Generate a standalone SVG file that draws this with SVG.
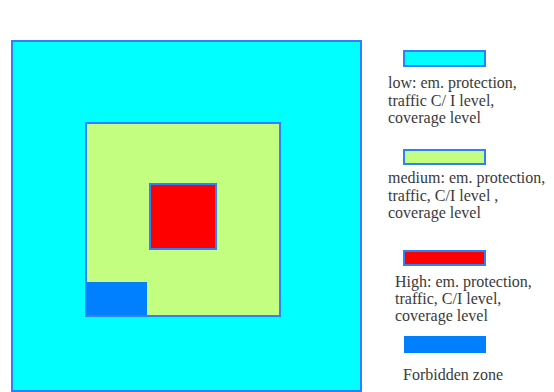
<svg xmlns="http://www.w3.org/2000/svg" width="554" height="392" viewBox="0 0 554 392">
<style>
.z{stroke:#2f7fff;stroke-width:2}
.t{font-family:'Liberation Serif','Times New Roman','DejaVu Serif',serif;font-size:16px;fill:#3a3a3a}
</style>
<rect width="554" height="392" fill="#fff"/>
<g id="zone-low"><rect class="z" x="12" y="41" width="349" height="350" fill="#00ffff"/></g>
<g id="zone-medium"><rect class="z" x="86" y="123" width="194" height="193" fill="#c4fe80"/></g>
<g id="zone-high"><rect class="z" x="150" y="184" width="66" height="65" fill="#ff0000"/></g>
<g id="zone-forbidden"><rect x="86" y="282" width="61" height="33" fill="#0080ff"/></g>
<g id="legend-low">
<rect class="z" x="404" y="51" width="81" height="15" fill="#00ffff"/>
<text class="t" x="388" y="88">low: em. protection,</text>
<text class="t" x="388" y="106">traffic C/ I level,</text>
<text class="t" x="388" y="123">coverage level</text>
</g>
<g id="legend-medium">
<rect class="z" x="404" y="150" width="81" height="14" fill="#c4fe80"/>
<text class="t" x="388" y="183">medium: em. protection,</text>
<text class="t" x="388" y="201">traffic, C/I level ,</text>
<text class="t" x="388" y="218">coverage level</text>
</g>
<g id="legend-high">
<rect class="z" x="404" y="251" width="81" height="14" fill="#ff0000"/>
<text class="t" x="395" y="287">High: em. protection,</text>
<text class="t" x="395" y="304">traffic, C/I level,</text>
<text class="t" x="395" y="321">coverage level</text>
</g>
<g id="legend-forbidden">
<rect x="404" y="336" width="82" height="17" fill="#0080ff"/>
<text class="t" x="403" y="380">Forbidden zone</text>
</g>
<g id="connectors"/>
</svg>
